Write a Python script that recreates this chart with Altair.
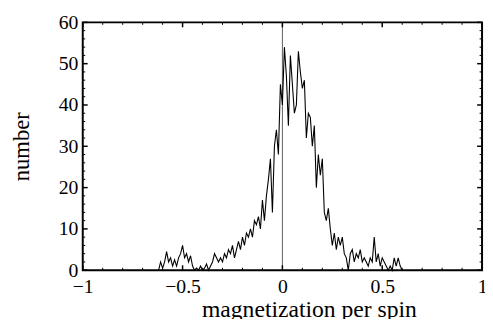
import altair as alt
import pandas as pd

# histogram counts, bins of width 0.01 starting at -0.62
counts = [
    0, 2, 0.5, 2, 4.5, 2, 3, 1, 2.5, 1,
    3, 4, 6, 3, 4, 2, 3.5, 1, 0, 0.5,
    0, 1, 0, 0.5, 1.5, 0, 1, 2, 4, 3,
    2, 3, 2, 4, 3, 5, 4, 6, 3, 5,
    7, 5, 8, 6, 9, 8, 10, 8, 12, 11,
    13, 10, 17, 12, 18, 22, 27, 14, 30, 34,
    28, 45, 40, 54, 47, 35, 52, 45, 38, 40,
    53, 48, 44, 46, 32, 38, 37, 30, 35, 20,
    28, 23, 27, 14, 12, 15, 10, 6, 9, 5,
    8, 6, 8, 4, 3, 0, 4, 5, 2, 4,
    3, 5, 2, 3, 2, 1, 3, 2, 8, 2,
    4, 1, 3, 2, 1, 0, 1, 0, 3, 1,
    3, 1, 0,
]
bin_start = -0.62
bin_step = 0.01
mag = [round(bin_start + bin_step * i, 3) for i in range(len(counts))]

x_major = [-1, -0.5, 0, 0.5, 1]
x_minor = [-0.9, -0.8, -0.7, -0.6, -0.4, -0.3, -0.2, -0.1,
           0.1, 0.2, 0.3, 0.4, 0.6, 0.7, 0.8, 0.9]
y_major = [0, 10, 20, 30, 40, 50, 60]
y_minor = [2, 4, 6, 8, 12, 14, 16, 18, 22, 24, 26, 28, 32, 34, 36, 38,
           42, 44, 46, 48, 52, 54, 56, 58]

W, H = 406, 252
FONT = "Times New Roman, Liberation Serif, serif"

df = pd.DataFrame({"m": mag, "n": counts})
xscale = alt.Scale(domain=[-1, 1], nice=False, zero=False)
yscale = alt.Scale(domain=[0, 60], nice=False)

xaxis = alt.Axis(
    values=x_major, format="~g", title="magnetization per spin", ticks=False,
    domain=False, grid=False, labelPadding=7, labelFlush=False, labelOverlap=False,
    labelFont=FONT, labelFontSize=20, labelColor="black",
    titleFont=FONT, titleFontSize=24, titleFontWeight="normal", titleColor="black",
    titleX=230, titleY=47, titleBaseline="alphabetic", titleAlign="center")
yaxis = alt.Axis(
    values=y_major, format="d", title="number", ticks=False, domain=False, grid=False,
    labelPadding=5, labelFlush=False, labelOverlap=False, labelBaseline="middle",
    labelFont=FONT, labelFontSize=20, labelColor="black",
    titleFont=FONT, titleFontSize=23, titleFontWeight="normal", titleColor="black",
    titleX=-50, titleY=H / 2, titleAngle=270, titleAlign="center",
    titleBaseline="bottom")

line = alt.Chart(df).mark_line(color="black", strokeWidth=1.1).encode(
    x=alt.X("m:Q", scale=xscale, axis=xaxis),
    y=alt.Y("n:Q", scale=yscale, axis=yaxis),
)

zero = alt.Chart(pd.DataFrame({"v": [0]})).mark_rule(color="#333", strokeWidth=0.8).encode(
    x=alt.X("v:Q", scale=xscale, axis=xaxis))


def xticks(vals, length, width):
    d = pd.DataFrame({"v": vals})
    bottom = alt.Chart(d).mark_rule(color="black", strokeWidth=width).encode(
        x=alt.X("v:Q", scale=xscale, axis=xaxis), y=alt.value(H), y2=alt.value(H - length))
    top = alt.Chart(d).mark_rule(color="black", strokeWidth=width).encode(
        x=alt.X("v:Q", scale=xscale, axis=xaxis), y=alt.value(0), y2=alt.value(length))
    return [bottom, top]


def yticks(vals, length, width):
    d = pd.DataFrame({"v": vals})
    left = alt.Chart(d).mark_rule(color="black", strokeWidth=width).encode(
        y=alt.Y("v:Q", scale=yscale, axis=yaxis), x=alt.value(0), x2=alt.value(length))
    right = alt.Chart(d).mark_rule(color="black", strokeWidth=width).encode(
        y=alt.Y("v:Q", scale=yscale, axis=yaxis), x=alt.value(W), x2=alt.value(W - length))
    return [left, right]


layers = [zero, line] + xticks(x_major, 5, 1.5) + xticks(x_minor, 2.5, 1) \
    + yticks(y_major, 5, 1.5) + yticks(y_minor, 2.5, 1)

chart = alt.layer(*layers).properties(
    width=W, height=H, autosize="none",
    padding={"left": 76, "top": 12, "right": 3, "bottom": 47},
    background="white",
).configure_view(stroke="black", strokeWidth=2)

chart.save("out.html", embed_options={"renderer": "svg", "actions": False})
